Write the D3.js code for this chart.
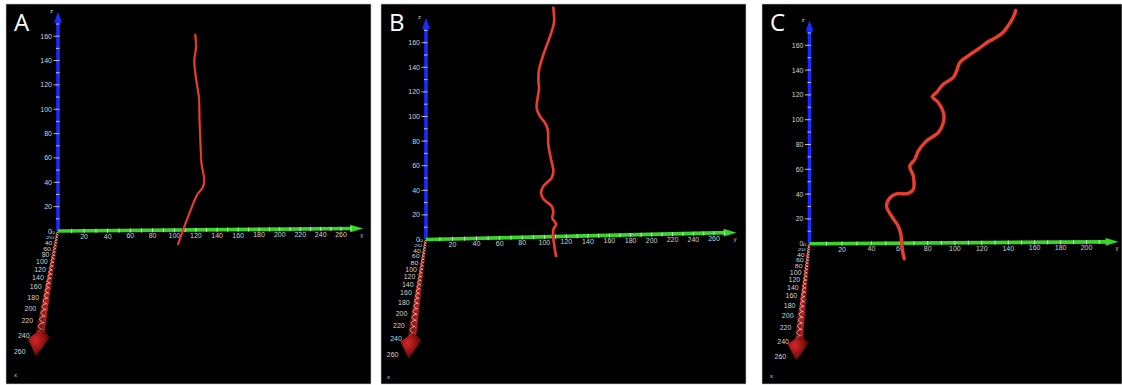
<!DOCTYPE html>
<html>
<head>
<meta charset="utf-8">
<script src="https://cdn.jsdelivr.net/npm/d3@7"></script>
<style>
  body { margin: 0; background: #fff; }
  svg { display: block; }
  text { font-family: "Liberation Sans", Arial, sans-serif; }
</style>
</head>
<body>
<div id="chart"></div>
<script>
// tick labels
const panelLetters = ['A', 'B', 'C'];
const zTickLabels = [0, 20, 40, 60, 80, 100, 120, 140, 160];
const yTickLabelsAB = [20, 40, 60, 80, 100, 120, 140, 160, 180, 200, 220, 240, 260];
const yTickLabelsC = [20, 40, 60, 80, 100, 120, 140, 160, 180, 200];
const xTickLabels = [0, 20, 40, 60, 80, 100, 120, 140, 160, 180, 200, 220, 240, 260];

// traced curves: y (green axis) and z (blue axis) values
const curveAy = [119.4, 120.1, 118.5, 120.1, 122.9, 123.4, 124.3, 125.3, 127.7, 126.7, 121.1, 115.5, 110.8, 107.1, 103.4];
const curveAz = [160.4, 150.3, 138.8, 124.6, 108.2, 91.2, 70.6, 54.2, 41.9, 35.3, 28.8, 17.2, 6.6, -2.5, -11.5];

const curveBy = [108.1, 108.7, 105.7, 99.0, 95.1, 94.5, 95.1, 93.0, 96.0, 100.5, 103.0, 103.5, 105.7,
  108.1, 106.6, 99.0, 96.9, 99.6, 106.6, 108.1, 107.1, 110.6, 108.1, 108.1, 109.0, 110.6];
const curveBz = [186.2, 174, 164.5, 148.2, 136, 127.9, 121.1, 104.9, 98.1, 92.7, 87.2, 75, 64.2,
  53.4, 48, 41.2, 35.8, 30.3, 24.9, 19.5, 15.4, 10, 5.9, -0.8, -7.6, -15.7];

const curveCy = [145.6, 143.8, 140.0, 136.2, 131.2, 124.9, 117.4, 110.0, 103.7, 101.3, 98.8, 91.5, 86.5,
  83.4, 87.8, 91.5, 91.5, 87.8, 79.2, 73.2, 70.7, 67.1, 69.6, 69.6, 66.0, 57.6, 52.9, 50.5, 54.1,
  58.8, 60.7, 61.2, 61.9, 63.1];
const curveCz = [187.1, 181.8, 175, 169.7, 165.7, 162.1, 156.2, 150.8, 145.5, 138.7, 133.4, 128, 121.3,
  118.1, 113.2, 105.2, 97.1, 89, 82.3, 74.2, 67.5, 62.1, 54, 43.3, 40.1, 39.8, 36.6, 29.8, 21.8,
  13.7, 7, 0.3, -6.5, -12.6];

const W = 1122, H = 385;
const D = 550; // viewer distance for the x (depth) axis

const panels = [
  { x0: 6, x1: 371, ox: 58, oy: 231, z20: 24.35, yMax: 260, yLen: 283, yEnd: 282, slope: 0.008,
    d260: 119, dx: -0.177, ys: curveAy, zs: curveAz, yTicks: yTickLabelsAB, lw: 1.7, xLab: [14, 377] },
  { x0: 381, x1: 746, ox: 426, oy: 239.5, z20: 24.6, yMax: 260, yLen: 288, yEnd: 282, slope: 0.022,
    d260: 113, dx: -0.147, ys: curveBy, zs: curveBz, yTicks: yTickLabelsAB, lw: 2.2, xLab: [387, 379] },
  { x0: 762, x1: 1122, ox: 809.5, oy: 243.7, z20: 24.8, yMax: 200, yLen: 277, yEnd: 225, slope: 0.006,
    d260: 111, dx: -0.113, ys: curveCy, zs: curveCz, yTicks: yTickLabelsC, lw: 3, xLab: [770, 378] }
];

const svg = d3.select('#chart').append('svg')
  .attr('width', W)
  .attr('height', H);

svg.append('rect').attr('width', W).attr('height', H).attr('fill', '#fff');

const defs = svg.append('defs');
const cyl = defs.append('linearGradient').attr('id', 'cyl')
  .attr('x1', 0).attr('x2', 1).attr('y1', 0).attr('y2', 0);
cyl.selectAll('stop')
  .data([[0, '#3a0505'], [0.45, '#b52222'], [1, '#450606']])
  .join('stop')
  .attr('offset', d => d[0])
  .attr('stop-color', d => d[1]);
const coneG = defs.append('radialGradient').attr('id', 'cone')
  .attr('cx', 0.35).attr('cy', 0.4).attr('r', 0.75);
coneG.selectAll('stop')
  .data([[0, '#d42828'], [0.55, '#8a1010'], [1, '#220202']])
  .join('stop')
  .attr('offset', d => d[0])
  .attr('stop-color', d => d[1]);

const BLUE = '#1b2bff', GREEN = '#3ad52a', LABEL = '#d2d2d2';

panels.forEach((p, i) => {
  const g = svg.append('g');

  g.append('rect')
    .attr('x', p.x0).attr('y', 4)
    .attr('width', p.x1 - p.x0).attr('height', 380)
    .attr('fill', '#000')
    .attr('stroke', '#c8c8c8').attr('stroke-width', 0.6);

  const zScale = d3.scaleLinear().domain([0, 20]).range([0, p.z20]);
  const yScale = d3.scalePow().exponent(0.93).domain([0, p.yMax]).range([0, p.yLen]);
  const dScale = d3.scaleLinear().domain([0, 260 / (D - 260)]).range([0, p.d260]);
  const depth = v => dScale(v / (D - v));

  const P = (y, z) => [p.ox + yScale(y), p.oy - p.slope * yScale(y) - zScale(z)];
  const X = v => { const d = depth(v); return [p.ox + p.dx * d, p.oy + d, d]; };

  // ---- x (depth) axis: red cylinder with rings
  const halfW = d => 1.4 + 0.03 * d;
  const steps = d3.range(0, 241, 4);
  const left = steps.map(v => { const [x, y, d] = X(v); return [x - halfW(d), y]; });
  const right = steps.map(v => { const [x, y, d] = X(v); return [x + halfW(d), y]; }).reverse();
  g.append('path')
    .attr('d', 'M' + left.concat(right).map(pt => pt.join(',')).join('L') + 'Z')
    .attr('fill', 'url(#cyl)');

  d3.range(10, 245, 10).forEach(v => {
    const [x, y, d] = X(v);
    const r = halfW(d) + 0.6;
    const pth = d3.path();
    pth.moveTo(x + r * 0.4, y - r * 0.8);
    pth.quadraticCurveTo(x - r * 1.6, y - r * 0.1, x + r * 0.4, y + r * 0.8);
    g.append('path').attr('d', pth.toString())
      .attr('fill', 'none').attr('stroke', '#f2d3bd').attr('stroke-width', 0.8).attr('opacity', 0.9);
  });

  // cone
  const back = X(234), mid = X(246), tip = X(267);
  const cw = halfW(mid[2]) * 2.4;
  g.append('path')
    .attr('d', `M${back[0] + 1},${back[1]}L${mid[0] - cw},${mid[1]}L${tip[0]},${tip[1]}L${mid[0] + cw},${mid[1] - 1.5}Z`)
    .attr('fill', 'url(#cone)');

  g.selectAll('.xlab').data(xTickLabels).join('text')
    .attr('class', 'xlab')
    .attr('transform', v => {
      const [x, y, d] = X(v);
      const s = Math.min(1, 0.45 + d / 50);
      return `translate(${x - 3 - 0.07 * d},${y + 1.5 + 2.5 * s}) scale(1,${s})`;
    })
    .attr('text-anchor', 'end')
    .attr('font-size', 7)
    .attr('fill', LABEL)
    .text(v => v);

  // ---- z axis (blue)
  const zTopTip = P(0, 180);
  g.append('line')
    .attr('x1', p.ox).attr('y1', p.oy)
    .attr('x2', p.ox).attr('y2', zTopTip[1] + 8)
    .attr('stroke', BLUE).attr('stroke-width', 3.6);
  g.append('path')
    .attr('d', `M${p.ox - 4},${zTopTip[1] + 11}L${p.ox},${zTopTip[1]}L${p.ox + 4},${zTopTip[1] + 11}Z`)
    .attr('fill', BLUE);

  d3.range(10, 171, 10).forEach(v => {
    const y = P(0, v)[1];
    const major = v % 20 === 0;
    g.append('line')
      .attr('x1', p.ox - (major ? 4.5 : 2)).attr('x2', p.ox + 1.5)
      .attr('y1', y).attr('y2', y)
      .attr('stroke', '#e8e8e8').attr('stroke-width', 0.8);
  });

  g.selectAll('.zlab').data(zTickLabels).join('text')
    .attr('class', 'zlab')
    .attr('x', p.ox - 6)
    .attr('y', v => P(0, v)[1] + 2.5)
    .attr('text-anchor', 'end')
    .attr('font-size', 7)
    .attr('fill', LABEL)
    .text(v => v);

  g.append('text')
    .attr('x', p.ox - 8).attr('y', zTopTip[1] + 1)
    .attr('font-size', 6).attr('fill', LABEL)
    .text('z');

  // ---- y axis (green)
  const o = P(0, 0), yTip = P(p.yEnd, 0);
  g.append('line')
    .attr('x1', o[0]).attr('y1', o[1])
    .attr('x2', yTip[0] - 10).attr('y2', yTip[1])
    .attr('stroke', GREEN).attr('stroke-width', 3.6);
  g.append('path')
    .attr('d', `M${yTip[0] - 13},${yTip[1] - 3.8}L${yTip[0]},${yTip[1]}L${yTip[0] - 13},${yTip[1] + 3.8}Z`)
    .attr('fill', GREEN);

  d3.range(10, p.yMax + 11, 10).forEach(v => {
    const [x, y] = P(v, 0);
    g.append('line')
      .attr('x1', x).attr('x2', x)
      .attr('y1', y - 2).attr('y2', y + 2.2)
      .attr('stroke', '#e8e8e8').attr('stroke-width', 0.8);
  });

  g.selectAll('.ylab').data(p.yTicks).join('text')
    .attr('class', 'ylab')
    .attr('x', v => P(v, 0)[0])
    .attr('y', v => P(v, 0)[1] + 8)
    .attr('text-anchor', 'middle')
    .attr('font-size', 7)
    .attr('fill', LABEL)
    .text(v => v);

  g.append('text')
    .attr('x', yTip[0] - 3).attr('y', yTip[1] + 8)
    .attr('font-size', 6).attr('fill', LABEL)
    .text('y');

  g.append('text')
    .attr('x', p.xLab[0]).attr('y', p.xLab[1])
    .attr('font-size', 6).attr('fill', LABEL)
    .text('x');

  // ---- traced curve
  const pts = p.ys.map((y, k) => [y, p.zs[k]]);
  const line = d3.line()
    .x(d => P(d[0], d[1])[0])
    .y(d => P(d[0], d[1])[1])
    .curve(d3.curveCatmullRom.alpha(0.5));
  g.append('path').datum(pts)
    .attr('d', line)
    .attr('fill', 'none')
    .attr('stroke', '#a01c14')
    .attr('stroke-width', p.lw + 0.6)
    .attr('stroke-linejoin', 'round').attr('stroke-linecap', 'round');
  g.append('path').datum(pts)
    .attr('d', line)
    .attr('fill', 'none')
    .attr('stroke', '#e8402e')
    .attr('stroke-width', p.lw)
    .attr('stroke-linejoin', 'round').attr('stroke-linecap', 'round');

  // panel letter
  g.append('text')
    .attr('x', p.x0 + 8).attr('y', 31)
    .attr('font-size', 24)
    .attr('fill', '#fff')
    .style('font-family', '"Open Sans", "Noto Sans", sans-serif')
    .text(panelLetters[i]);
});
</script>
</body>
</html>
